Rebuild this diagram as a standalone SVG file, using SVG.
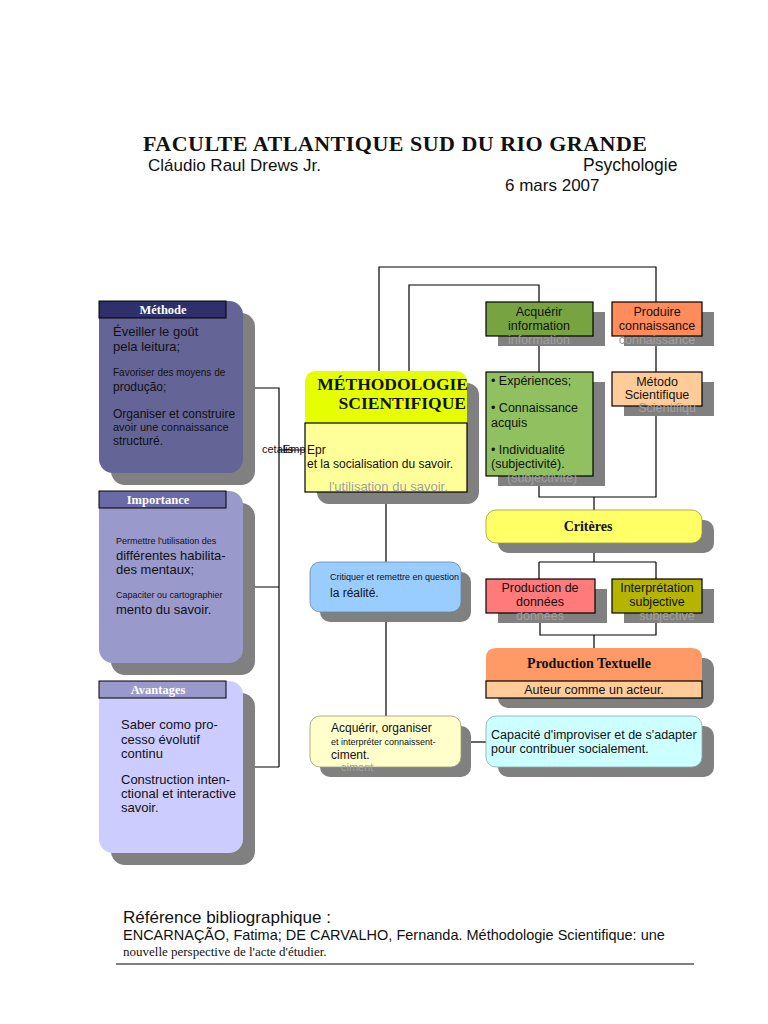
<svg xmlns="http://www.w3.org/2000/svg" width="768" height="1024" viewBox="0 0 768 1024">
<style>
.sans{font-family:"Liberation Sans",Arial,sans-serif;fill:#111}
.serif{font-family:"Liberation Serif","Times New Roman",serif;fill:#111}
.hd{font-family:"Liberation Serif","Times New Roman",serif;font-weight:bold;font-size:12.5px;fill:#fff}
.sh{fill:#808080}
.ln{stroke:#000;stroke-width:1.2;fill:none}
.bx{stroke:#000;stroke-width:1.2}
.ghost{font-family:"Liberation Sans",Arial,sans-serif;fill:#a0a0a0}
</style>
<rect width="768" height="1024" fill="#fff"/>
<!-- header -->
<text class="serif" x="143" y="151" font-size="22" font-weight="bold" textLength="504">FACULTE ATLANTIQUE SUD DU RIO GRANDE</text>
<text class="sans" x="148" y="171" font-size="17">Cláudio Raul Drews Jr.</text>
<text class="sans" x="583" y="171" font-size="17.5">Psychologie</text>
<text class="sans" x="505" y="191" font-size="17">6 mars 2007</text>

<!-- connectors -->
<g id="connectors">
<path class="ln" d="M243,388 H279 V767 M243,587 H279 M243,767 H279 M279,450 H305"/>
<path class="ln" d="M379,371 V267 H656 V302 M409,371 V285 H539 V302"/>
<path class="ln" d="M386,492 V562 M386,612 V716"/>
<path class="ln" d="M539,336 V372 M656,336 V372"/>
<path class="ln" d="M539,476 V497 H656 V406 M594,497 V510"/>
<path class="ln" d="M594,543 V562 M539,562 H656 M539,562 V579 M656,562 V579"/>
<path class="ln" d="M540,613 V635 H656 V613 M594,635 V648"/>
<path class="ln" d="M462,742 H486"/>
</g>

<!-- left boxes -->
<g id="methode">
<rect class="sh" x="111" y="313" width="144" height="172" rx="14"/>
<rect x="99" y="301" width="144" height="172" rx="14" fill="#646497"/>
<rect x="99" y="301" width="127" height="17" fill="#2f2f6b" stroke="#000" stroke-width="1"/>
<text class="hd" x="163" y="314" text-anchor="middle">Méthode</text>
<text class="sans" x="113" y="336" font-size="13">Éveiller le goût</text>
<text class="sans" x="113" y="351" font-size="13">pela leitura;</text>
<text class="sans" x="113" y="376" font-size="10">Favoriser des moyens de</text>
<text class="sans" x="113" y="391" font-size="12">produção;</text>
<text class="sans" x="113" y="418" font-size="12">Organiser et construire</text>
<text class="sans" x="113" y="431" font-size="11">avoir une connaissance</text>
<text class="sans" x="113" y="445" font-size="12">structuré.</text>
</g>
<g id="importance">
<rect class="sh" x="111" y="503" width="144" height="172" rx="14"/>
<rect x="99" y="491" width="144" height="172" rx="14" fill="#9999cc"/>
<rect x="99" y="491" width="127" height="17" fill="#6a6aa6" stroke="#000" stroke-width="1"/>
<text class="hd" x="158" y="504" text-anchor="middle">Importance</text>
<text class="sans" x="116" y="544" font-size="9">Permettre l'utilisation des</text>
<text class="sans" x="116" y="560" font-size="13">différentes habilita-</text>
<text class="sans" x="116" y="574" font-size="13">des mentaux;</text>
<text class="sans" x="116" y="598" font-size="9">Capaciter ou cartographier</text>
<text class="sans" x="116" y="614" font-size="13">mento du savoir.</text>
</g>
<g id="avantages">
<rect class="sh" x="111" y="693" width="144" height="172" rx="14"/>
<rect x="99" y="681" width="144" height="172" rx="14" fill="#ccccff"/>
<rect x="99" y="681" width="127" height="17" fill="#9999cc" stroke="#000" stroke-width="1"/>
<text class="hd" x="158" y="694" text-anchor="middle">Avantages</text>
<text class="sans" x="121" y="729" font-size="13">Saber como pro-</text>
<text class="sans" x="121" y="744" font-size="13">cesso évolutif</text>
<text class="sans" x="121" y="758" font-size="13">continu</text>
<text class="sans" x="121" y="784" font-size="13">Construction inten-</text>
<text class="sans" x="121" y="798" font-size="13">ctional et interactive</text>
<text class="sans" x="121" y="812" font-size="13">savoir.</text>
</g>

<!-- stray label -->
<text class="sans" x="262" y="453" font-size="11">cetalis</text>
<text class="sans" x="283" y="453" font-size="11">Emp</text>

<!-- central -->
<g id="methodologie">
<rect class="sh" x="317" y="383" width="162" height="121" rx="12"/>
<path d="M317,371 H455 Q467,371 467,383 V423 H305 V383 Q305,371 317,371 Z" fill="#e6ff00"/>
<rect class="bx" x="305" y="423" width="162" height="69" fill="#ffff99"/>
<text class="serif" x="468" y="390" font-size="17.5" font-weight="bold" text-anchor="end">MÉTHODOLOGIE</text>
<text class="serif" x="466" y="409" font-size="17.5" font-weight="bold" text-anchor="end">SCIENTIFIQUE</text>
<text class="sans" x="307" y="454" font-size="12">Epr</text>
<text class="sans" x="307" y="468" font-size="12">et la socialisation du savoir.</text>
<text class="ghost" x="329" y="491" font-size="13">l'utilisation du savoir.</text>
</g>

<g id="critiquer">
<rect class="sh" x="320" y="572" width="151" height="50" rx="10"/>
<rect x="310" y="562" width="151" height="50" rx="10" fill="#99ccff" stroke="#6688aa" stroke-width="0.8"/>
<text class="sans" x="330" y="580" font-size="9">Critiquer et remettre en question</text>
<text class="sans" x="330" y="597" font-size="12">la réalité.</text>
</g>

<g id="acquerir-organiser">
<rect class="sh" x="320" y="726" width="151" height="51" rx="10"/>
<rect x="310" y="716" width="151" height="51" rx="10" fill="#ffffcc" stroke="#999977" stroke-width="0.8"/>
<text class="sans" x="331" y="732" font-size="12">Acquérir, organiser</text>
<text class="sans" x="331" y="745" font-size="9">et interpréter connaissent-</text>
<text class="sans" x="331" y="759" font-size="12">ciment.</text>
<text class="ghost" x="341" y="771" font-size="11">ciment</text>
</g>

<!-- right column -->
<g id="acquerir-info">
<rect class="sh" x="498" y="312" width="107" height="34"/>
<rect class="bx" x="486" y="302" width="107" height="34" fill="#77a340"/>
<text class="ghost" x="539" y="344" font-size="12.5" text-anchor="middle">information</text>
<text class="sans" x="539" y="316" font-size="12.5" text-anchor="middle">Acquérir</text>
<text class="sans" x="539" y="330" font-size="12.5" text-anchor="middle">information</text>
</g>
<g id="produire">
<rect class="sh" x="624" y="312" width="90" height="34"/>
<rect class="bx" x="612" y="302" width="90" height="34" fill="#ff8c5a"/>
<text class="ghost" x="657" y="344" font-size="12.5" text-anchor="middle">connaissance</text>
<text class="sans" x="657" y="316" font-size="12.5" text-anchor="middle">Produire</text>
<text class="sans" x="657" y="330" font-size="12.5" text-anchor="middle">connaissance</text>
</g>
<g id="experiences">
<rect class="sh" x="498" y="382" width="107" height="104"/>
<rect class="bx" x="486" y="372" width="107" height="104" fill="#90c060"/>
<text class="ghost" x="507" y="482" font-size="12.5">(subjectivité)</text>
<text class="sans" x="491" y="385" font-size="12.5">• Expériences;</text>
<text class="sans" x="491" y="412" font-size="12.5">• Connaissance</text>
<text class="sans" x="491" y="427" font-size="12.5">acquis</text>
<text class="sans" x="491" y="454" font-size="12.5">• Individualité</text>
<text class="sans" x="491" y="468" font-size="12.5">(subjectivité).</text>
</g>
<g id="metodo">
<rect class="sh" x="624" y="382" width="90" height="34"/>
<rect class="bx" x="612" y="372" width="90" height="34" fill="#ffcc99"/>
<text class="ghost" x="667" y="412" font-size="12.5" text-anchor="middle">Scientifiqu</text>
<text class="sans" x="657" y="386" font-size="12.5" text-anchor="middle">Método</text>
<text class="sans" x="657" y="399" font-size="12.5" text-anchor="middle">Scientifique</text>
</g>
<g id="criteres">
<rect class="sh" x="498" y="520" width="216" height="33" rx="10"/>
<rect x="486" y="510" width="216" height="33" rx="10" fill="#ffff66" stroke="#999944" stroke-width="0.8"/>
<text class="serif" x="588" y="531" font-size="14" font-weight="bold" text-anchor="middle">Critères</text>
</g>
<g id="production-donnees">
<rect class="sh" x="498" y="589" width="109" height="34"/>
<rect class="bx" x="486" y="579" width="109" height="34" fill="#ff7a7a"/>
<text class="ghost" x="540" y="620" font-size="12.5" text-anchor="middle">données</text>
<text class="sans" x="540" y="592" font-size="12.5" text-anchor="middle">Production de</text>
<text class="sans" x="540" y="606" font-size="12.5" text-anchor="middle">données</text>
</g>
<g id="interpretation">
<rect class="sh" x="624" y="589" width="90" height="34"/>
<rect class="bx" x="612" y="579" width="90" height="34" fill="#b5b500"/>
<text class="ghost" x="667" y="620" font-size="12.5" text-anchor="middle">subjective</text>
<text class="sans" x="657" y="592" font-size="12.5" text-anchor="middle">Interprétation</text>
<text class="sans" x="657" y="606" font-size="12.5" text-anchor="middle">subjective</text>
</g>
<g id="production-textuelle">
<rect class="sh" x="498" y="658" width="216" height="50" rx="10"/>
<path d="M496,648 H692 Q702,648 702,658 V681 H486 V658 Q486,648 496,648 Z" fill="#ff9966"/>
<rect class="bx" x="486" y="681" width="216" height="17" fill="#ffcc99"/>
<text class="serif" x="589" y="668" font-size="14" font-weight="bold" text-anchor="middle">Production Textuelle</text>
<text class="sans" x="594" y="694" font-size="12.5" text-anchor="middle">Auteur comme un acteur.</text>
</g>
<g id="capacite">
<rect class="sh" x="498" y="726" width="216" height="51" rx="10"/>
<rect x="486" y="716" width="216" height="51" rx="10" fill="#ccffff" stroke="#88aaaa" stroke-width="0.8"/>
<text class="sans" x="491" y="739" font-size="12.5">Capacité d'improviser et de s'adapter</text>
<text class="sans" x="491" y="753" font-size="12.5">pour contribuer socialement.</text>
</g>

<!-- reference -->
<text class="sans" x="123" y="923" font-size="17">Référence bibliographique :</text>
<text class="sans" x="123" y="940" font-size="14.5">ENCARNAÇÃO, Fatima; DE CARVALHO, Fernanda. Méthodologie Scientifique: une</text>
<text class="serif" x="123" y="956" font-size="13">nouvelle perspective de l'acte d'étudier.</text>
<line x1="116" y1="964" x2="694" y2="964" stroke="#000" stroke-width="1"/>
</svg>
